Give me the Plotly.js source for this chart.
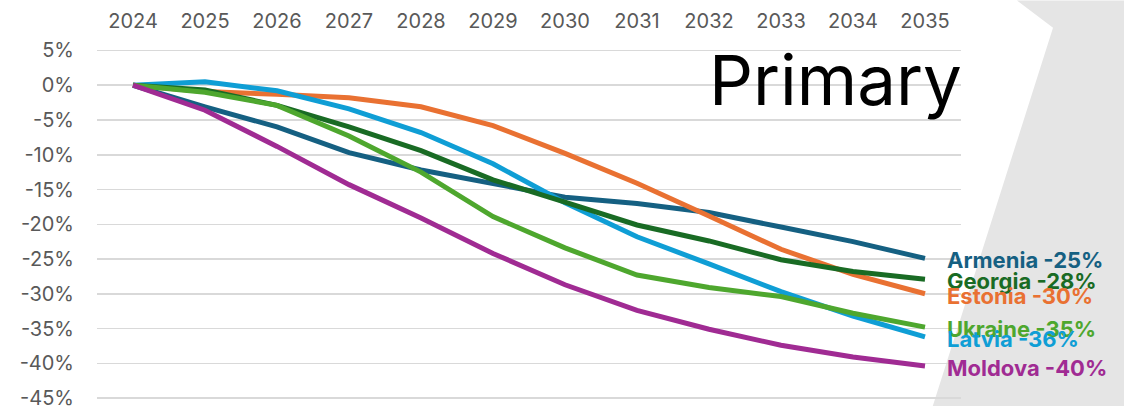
<!DOCTYPE html>
<html>
<head>
<meta charset="utf-8">
<script src="https://cdn.plot.ly/plotly-3.0.1.min.js"></script>
<style>html,body{margin:0;padding:0;background:#fff;}#chart{width:1124px;height:406px;}</style>
</head>
<body>
<div id="chart"></div>
<script>
const years = ["2024","2025","2026","2027","2028","2029","2030","2031","2032","2033","2034","2035"];
const armenia = [0, -3.1, -6.0, -9.7, -12.2, -14.1, -16.1, -17.0, -18.3, -20.4, -22.5, -24.9];
const georgia = [0, -0.7, -2.9, -6.0, -9.4, -13.6, -16.8, -20.1, -22.4, -25.1, -26.8, -27.9];
const estonia = [0, -0.9, -1.3, -1.8, -3.1, -5.8, -9.8, -14.1, -18.8, -23.6, -27.2, -30.0];
const ukraine = [0, -1.0, -2.9, -7.3, -12.5, -18.9, -23.4, -27.3, -29.1, -30.4, -32.8, -34.8];
const latvia  = [0, 0.5, -0.8, -3.4, -6.8, -11.3, -16.9, -21.8, -25.7, -29.7, -33.2, -36.2];
const moldova = [0, -3.6, -8.8, -14.3, -19.1, -24.2, -28.7, -32.4, -35.1, -37.4, -39.1, -40.4];
const seriesNames = ["Armenia","Georgia","Estonia","Ukraine","Latvia","Moldova"];
const seriesValues = [armenia, georgia, estonia, ukraine, latvia, moldova];
const seriesColors = ["#156082","#196B24","#E97132","#4EA72E","#0F9ED5","#A02B93"];
const yTicks = [5,0,-5,-10,-15,-20,-25,-30,-35,-40,-45];
const chartTitle = "Primary";

const drawOrder = [0,2,4,1,3,5];
const traces = drawOrder.map(i => ({
  type: "scatter", mode: "lines",
  x: years.map((_, k) => k), y: seriesValues[i], name: seriesNames[i],
  line: {color: seriesColors[i], width: 5},
  hoverinfo: "skip", showlegend: false
}));

const lastIdx = years.length - 1;
const annotations = seriesNames.map((n, i) => {
  const v = seriesValues[i][lastIdx];
  return {
    xref: "x", yref: "y", x: lastIdx, y: v,
    text: n + " " + Math.round(v) + "%",
    showarrow: false, xanchor: "left", yanchor: "middle",
    xshift: 20, yshift: -2,
    font: {family: "Inter, 'Liberation Sans', sans-serif", size: 22, color: seriesColors[i], weight: 700}
  };
});
annotations.push({
  xref: "paper", yref: "paper", x: 1.0035, y: 1.03,
  xanchor: "right", yanchor: "top", showarrow: false,
  text: chartTitle,
  font: {family: "Inter, 'Liberation Sans', sans-serif", size: 69, color: "#000000"}
});

const layout = {
  width: 1124, height: 406,
  margin: {l: 97, r: 163, t: 46.5, b: 1.3, pad: 0},
  paper_bgcolor: "#ffffff", plot_bgcolor: "rgba(0,0,0,0)",
  font: {family: "Inter, 'Liberation Sans', sans-serif", color: "#595959", size: 20},
  xaxis: {
    type: "linear", range: [-0.5, 11.5], side: "top",
    tickmode: "array", tickvals: years.map((_, k) => k), ticktext: years,
    showgrid: false, zeroline: false, showline: false, ticks: "",
    ticklabelstandoff: 14, fixedrange: true, ticklabeloverflow: "allow"
  },
  yaxis: {
    range: [-46, 5.5], tickmode: "array", tickvals: yTicks,
    ticktext: yTicks.map(t => t + "%"),
    showgrid: true, gridcolor: "#d9d9d9", gridwidth: 1.5,
    zeroline: false, showline: false, ticks: "",
    ticklabelstandoff: 22, fixedrange: true, ticklabeloverflow: "allow"
  },
  shapes: [{
    type: "path", xref: "paper", yref: "paper", layer: "below",
    path: "M 1.0648 1.13 L 1.1887 1.13 L 1.1887 -0.01 L 0.9664 -0.01 L 1.1065 1.054 Z",
    fillcolor: "#e5e5e5", line: {width: 0}
  }],
  annotations: annotations,
  showlegend: false
};

Plotly.newPlot("chart", traces, layout, {displayModeBar: false, staticPlot: true});
</script>
</body>
</html>
